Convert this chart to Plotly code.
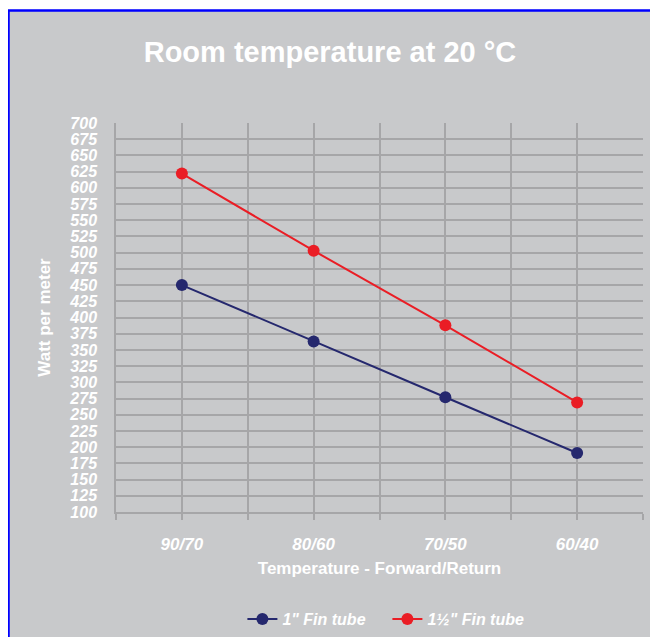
import plotly.graph_objects as go

categories = ["90/70", "80/60", "70/50", "60/40"]
fin_1 = [450, 363, 277, 191]
fin_1_5 = [622, 503, 388, 269]
series_names = ['1" Fin tube', '1½" Fin tube']
y_ticks = list(range(100, 701, 25))

# page body has an 8px margin, so figure coordinates = screen - 8
W, H = 650, 629
L, R, T, B = 108, 15, 115, 125
pw = W - L - R
ph = H - T - B

x_idx = list(range(len(categories)))
FONT = "Liberation Sans"
WHITE = "#ffffff"
BG = "#c8c9cb"
GRID = "#a6a6a8"

fig = go.Figure()
fig.add_trace(go.Scatter(
    x=x_idx, y=fin_1, name=series_names[0], mode="lines+markers",
    line=dict(color="#25286e", width=2), marker=dict(size=12, color="#25286e")))
fig.add_trace(go.Scatter(
    x=x_idx, y=fin_1_5, name=series_names[1], mode="lines+markers",
    line=dict(color="#ea1d25", width=2), marker=dict(size=12, color="#ea1d25")))

# outer gray panel with blue border
fig.add_shape(type="rect", xref="paper", yref="paper",
              x0=(0.5 - L) / pw, x1=(W + 20 - L) / pw,
              y0=(ph - (H + 20 - T)) / ph, y1=(ph - (2.5 - T)) / ph,
              fillcolor=BG, line=dict(color="#0000ff", width=2.5), layer="below")

fig.update_layout(
    width=W, height=H,
    margin=dict(l=L, r=R, t=T, b=B),
    paper_bgcolor="#ffffff",
    plot_bgcolor="rgba(0,0,0,0)",
    showlegend=True,
    title=dict(text="Room temperature at 20 °C", x=322 / W, xanchor="center",
               y=1 - 44 / H, yanchor="middle",
               font=dict(family=FONT, size=29, color=WHITE, weight="bold")),
    legend=dict(orientation="h", x=0.515, xanchor="center", xref="paper",
                y=(H - 611) / H, yref="container", yanchor="middle",
                font=dict(family=FONT, size=16, color=WHITE, weight="bold", style="italic"),
                bgcolor="rgba(0,0,0,0)", itemwidth=30,
                entrywidth=100, entrywidthmode="pixels"),
    xaxis=dict(
        range=[-0.5, len(categories) - 0.5],
        tickvals=x_idx, ticktext=categories,
        showgrid=True, gridcolor=GRID, gridwidth=1.5,
        ticks="outside", ticklen=6, tickcolor=GRID, tickwidth=1.5,
        ticklabelstandoff=10,
        minor=dict(tickvals=[i - 0.5 for i in range(len(categories) + 1)],
                   showgrid=True, gridcolor=GRID, gridwidth=1.5,
                   ticks="outside", ticklen=6, tickcolor=GRID, tickwidth=1.5),
        showline=True, linecolor=GRID, linewidth=1.5, mirror=False,
        zeroline=False,
        tickfont=dict(family=FONT, size=17, color=WHITE, weight="bold", style="italic"),
        title=dict(text="Temperature - Forward/Return", standoff=9,
                   font=dict(family=FONT, size=17, color=WHITE, weight="bold")),
    ),
    yaxis=dict(
        range=[100, 700], tickvals=y_ticks,
        showgrid=True, gridcolor=GRID, gridwidth=1.5,
        showline=True, linecolor=GRID, linewidth=1.5,
        zeroline=False, ticks="", ticklabelstandoff=14,
        tickfont=dict(family=FONT, size=16, color=WHITE, weight="bold", style="italic"),
        title=dict(text="Watt per meter", standoff=14,
                   font=dict(family=FONT, size=17, color=WHITE, weight="bold")),
    ),
)

fig.write_html("out.html")
